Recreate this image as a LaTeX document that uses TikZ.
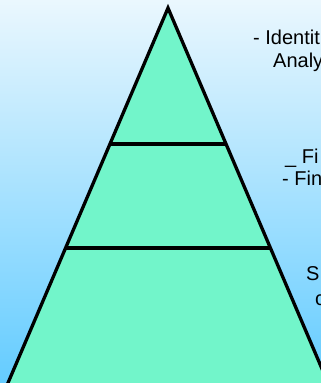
\documentclass[tikz,border=0pt]{standalone}
\usepackage{fontspec}
\setmainfont{Liberation Sans}
\usetikzlibrary{calc}
\definecolor{skytop}{HTML}{EAF7FE}
\definecolor{skybot}{HTML}{64CCFF}
\definecolor{pyrfill}{HTML}{72F5CA}
\begin{document}
\begin{tikzpicture}[x=1pt, y=-1pt, font=\fontsize{20}{24}\selectfont,
    layer/.style={line width=3.3pt, black},
    lbl/.style={anchor=base west, inner sep=0pt}]
        \path[clip, use as bounding box] (0,0) rectangle (321,383);
        \shade[top color=skytop, bottom color=skybot] (0,0) rectangle (321,383);
        \coordinate (apex) at (168,8);
        \coordinate (bl) at (0.7,400);
        \coordinate (br) at (335.3,400);
        \filldraw[layer, fill=pyrfill, line join=miter] (bl) -- (apex) -- (br);
        \foreach \t in {0.347, 0.612}{
          \draw[layer] ($(apex)!\t!(bl)$) -- ($(apex)!\t!(br)$);
        }
        \node[lbl] (identit) at (253,44) {- Identit};
        \node[lbl] (analy) at (273,67) {Analy};
        \node[lbl] (fi) at (285,163) {\_ Fi};
        \node[lbl] (fin) at (282,185) {- Fin};
        \node[lbl] (s) at (306,280) {S};
        \node[lbl] (c) at (315,305) {c};
      \end{tikzpicture}
\end{document}
